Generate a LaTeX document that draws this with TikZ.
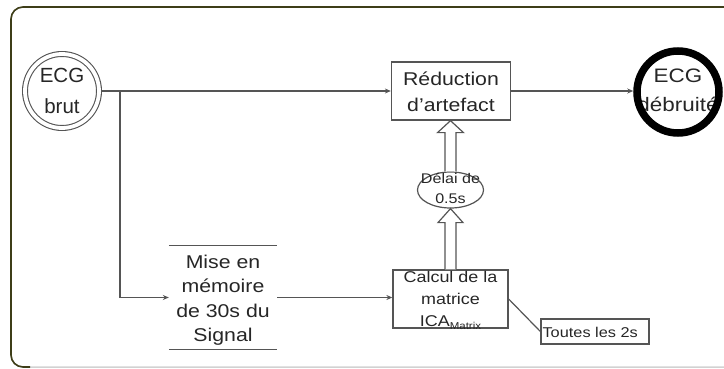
\documentclass[tikz,border=0pt]{standalone}
\usepackage{fontspec}
\setmainfont{Liberation Sans}
\newfontfamily\wf{Liberation Sans}[FakeStretch=1.15]
\usetikzlibrary{calc,arrows.meta,shapes.geometric}
\definecolor{txt}{HTML}{262626}
\definecolor{ln}{HTML}{555555}
\definecolor{frm}{HTML}{3E3E18}
\begin{document}
\begin{tikzpicture}[x=1pt,y=-1pt,
  conn/.style={draw=ln, line width=1.2pt, -{Stealth[length=6pt,width=5pt]}},
  plain/.style={draw=ln, line width=1.2pt},
  box/.style={draw=ln, line width=1.3pt, inner sep=0pt},
  lbl/.style={text=txt, align=center, inner sep=0pt},
  hol/.style={draw=ln, line width=1.2pt, fill=white, line join=miter}]
\useasboundingbox (0,0) rectangle (724,369);
\clip (0,0) rectangle (724,369);
% frame
\draw[line width=1.5pt, gray!35, rounded corners=12pt] (11,7) rectangle (745,367);
\draw[line width=1.6pt, frm, rounded corners=12pt] (30,367) -- (11,367) -- (11,7) -- (745,7);

% nodes
\node[circle, draw=ln, line width=1.1pt, double, double distance=3.8pt, minimum size=74pt, inner sep=0pt, outer sep=3pt] (brut) at (62,91) {};
\node[lbl, font=\fontsize{20.5}{31}\selectfont] (brutt) at (62,91) {ECG\\brut};

\node[box, minimum width=119pt, minimum height=58pt] (red) at (451,91) {};
\node[lbl, font=\wf\fontsize{18.5}{26.5}\selectfont] (redt) at (451,92) {Réduction\\d’artefact};

\node[lbl, font=\wf\fontsize{19.5}{29}\selectfont] (debt) at (678,90.5) {ECG\\débruité};
\node[circle, draw=black, line width=7.5pt, minimum size=82pt, inner sep=0pt] (deb) at (678,92) {};

\node[minimum width=108pt, minimum height=103pt, inner sep=0pt] (mise) at (223,297.5) {};
\node[lbl, font=\wf\fontsize{18.5}{24.5}\selectfont] (miset) at (223,300) {Mise en\\mémoire\\de 30s du\\Signal};

\node[box, minimum width=115pt, minimum height=58pt] (calc) at (450.5,299) {};
\node[lbl, font=\wf\fontsize{15.6}{22}\selectfont] (calct) at (450.5,300) {Calcul de la\\matrice\\ICA\raisebox{-3pt}{\fontsize{10}{10}\selectfont Matrix}};

\node[ellipse, draw=ln, line width=1.2pt, minimum width=66pt, minimum height=36pt, inner sep=0pt] (delai) at (450.5,190) {};

\node[box, minimum width=108pt, minimum height=25pt] (toutes) at (595,331.5) {};
\node[lbl, font=\wf\fontsize{14.2}{17}\selectfont, anchor=west] (toutest) at ($(toutes.west)+(2,0.5)$) {Toutes les 2s};

% connectors
\coordinate (split) at (brut.east -| 120,0);
\draw[conn] (brut.east) -- (red.west |- brut.east);
\draw[plain] (split) -- (split |- mise.west);
\draw[conn] (split |- mise.west) -- (mise.west);
\draw[conn] (mise.east) -- (mise.east -| calc.west);
\draw[conn] (red.east) -- (red.east -| deb.west);
\draw[plain] (calc.east) -- (toutes.west);

% hollow arrows
\coordinate (h1t) at (delai.north |- red.south);
\draw[hol] ($(delai.north)+(-5.5,0)$) -- ($(h1t)+(-5.5,12)$) -- ($(h1t)+(-13,12)$) -- (h1t) -- ($(h1t)+(13,12)$) -- ($(h1t)+(5.5,12)$) -- ($(delai.north)+(5.5,0)$);
\coordinate (h2t) at (delai.south);
\coordinate (h2b) at (calc.north -| delai.south);
\draw[hol] ($(h2b)+(-5.5,0)$) -- ($(h2t)+(-5.5,14)$) -- ($(h2t)+(-12.5,14)$) -- (h2t) -- ($(h2t)+(12.5,14)$) -- ($(h2t)+(5.5,14)$) -- ($(h2b)+(5.5,0)$);

\node[lbl, font=\wf\fontsize{14}{20.7}\selectfont] (delait) at (450.5,188.5) {Délai de\\0.5s};

% mise en memoire rules
\draw[plain] (mise.north west) -- (mise.north east);
\draw[plain] (mise.south west) -- (mise.south east);
\end{tikzpicture}
\end{document}
